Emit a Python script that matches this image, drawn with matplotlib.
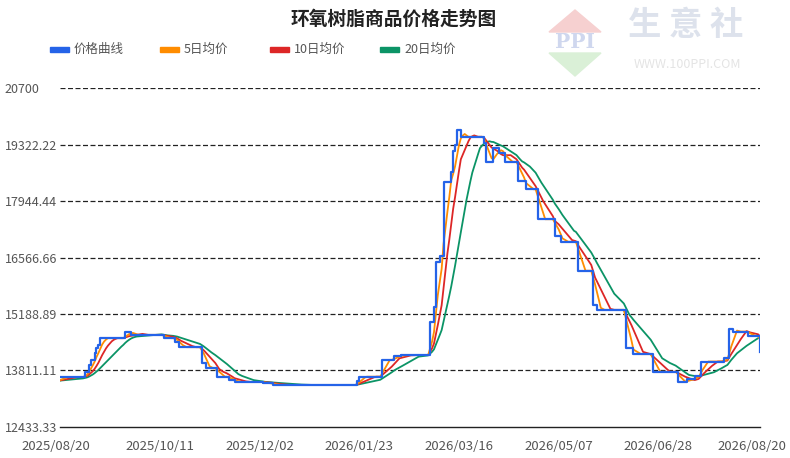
import matplotlib
matplotlib.use("Agg")
import matplotlib.pyplot as plt
import matplotlib.dates as mdates
from matplotlib.patches import Polygon, Rectangle
from matplotlib.transforms import ScaledTranslation
import pandas as pd

plt.rcParams['font.family'] = ['Noto Sans CJK SC', 'DejaVu Sans']

# price change points (value holds until the next date)
change_dates = [
    "2025-08-01", "2025-08-20", "2025-09-02", "2025-09-04", "2025-09-05", "2025-09-07",
    "2025-09-08", "2025-09-09", "2025-09-10", "2025-09-23", "2025-09-26", "2025-10-13",
    "2025-10-19", "2025-10-21", "2025-11-02", "2025-11-04", "2025-11-10", "2025-11-16",
    "2025-11-19", "2025-12-04", "2025-12-09", "2026-01-22", "2026-01-23", "2026-02-04",
    "2026-02-10", "2026-02-14", "2026-03-01", "2026-03-03", "2026-03-04", "2026-03-06",
    "2026-03-08", "2026-03-12", "2026-03-13", "2026-03-14", "2026-03-15", "2026-03-17",
    "2026-03-29", "2026-03-30", "2026-04-03", "2026-04-06", "2026-04-09", "2026-04-16",
    "2026-04-20", "2026-04-26", "2026-05-05", "2026-05-08", "2026-05-17", "2026-05-25",
    "2026-05-27", "2026-06-11", "2026-06-15", "2026-06-25", "2026-07-08", "2026-07-13",
    "2026-07-17", "2026-07-20", "2026-08-01", "2026-08-04", "2026-08-06", "2026-08-14",
    "2026-08-20",
]
change_values = [
    13560, 13650, 13780, 13945, 14070, 14240,
    14360, 14430, 14600, 14760, 14680, 14600,
    14510, 14380, 13990, 13865, 13660, 13580,
    13530, 13500, 13460, 13560, 13660, 14070,
    14165, 14190, 15000, 15350, 16450, 16600,
    18400, 18660, 19170, 19310, 19680, 19510,
    19350, 18900, 19230, 19110, 18900, 18420,
    18230, 17500, 17090, 16950, 16245, 15410,
    15290, 14350, 14210, 13780, 13540, 13600,
    13680, 14030, 14110, 14820, 14760, 14650,
    14255,
]

start, end = "2025-08-20", "2026-08-20"
y_ticks = [12433.33, 13811.11, 15188.89, 16566.66, 17944.44, 19322.22, 20700]
y_labels = ["12433.33", "13811.11", "15188.89", "16566.66", "17944.44", "19322.22", "20700"]
x_ticks = ["2025-08-20", "2025-10-11", "2025-12-02", "2026-01-23",
           "2026-03-16", "2026-05-07", "2026-06-28", "2026-08-20"]

series_names = ["价格曲线", "5日均价", "10日均价", "20日均价"]
colors = ["#2563e8", "#ff8c00", "#dd2626", "#0b9466"]

price = pd.Series(change_values, index=pd.to_datetime(change_dates))
daily = price.reindex(pd.date_range(change_dates[0], end, freq="D")).ffill()
ma5 = daily.rolling(5).mean()
ma10 = daily.rolling(10).mean()
ma20 = daily.rolling(20).mean()

fig = plt.figure(figsize=(7.9, 4.58), dpi=100)
ax = fig.add_axes([60 / 790, 31 / 458, 700 / 790, 339 / 458])

for s, c, lw in [(ma20, colors[3], 1.3), (ma10, colors[2], 1.3),
                 (ma5, colors[1], 1.3), (daily, colors[0], 1.6)]:
    v = s[start:end]
    ax.plot(v.index, v.values, color=c, lw=lw,
            drawstyle="steps-post" if s is daily else "default")

ax.set_xlim(pd.Timestamp(start), pd.Timestamp(end))
ax.set_ylim(y_ticks[0], y_ticks[-1])
ax.set_yticks(y_ticks)
ax.set_yticklabels(y_labels)
for t in y_ticks[1:]:
    ax.axhline(t, color="#222222", lw=0.9, ls=(0, (4, 2)), zorder=0)
ax.tick_params(axis="y", length=0, pad=40, labelsize=9, labelcolor="#555555")
for lab in ax.get_yticklabels():
    lab.set_horizontalalignment("left")

tick_dates = pd.to_datetime(x_ticks)
ax.set_xticks(tick_dates)
ax.xaxis.set_major_formatter(mdates.DateFormatter("%Y/%m/%d"))
ax.tick_params(axis="x", which="major", length=0, labelsize=9.5,
               labelcolor="#555555", pad=9)
# tick marks only at the inner dates
ax.set_xticks(tick_dates[1:-1], minor=True)
ax.tick_params(axis="x", which="minor", length=5, width=1, color="#222222")
xlabs = ax.get_xticklabels()
xlabs[0].set_transform(xlabs[0].get_transform() + ScaledTranslation(-0.045, 0, fig.dpi_scale_trans))
xlabs[-1].set_transform(xlabs[-1].get_transform() + ScaledTranslation(-0.08, 0, fig.dpi_scale_trans))

for sp in ["left", "right", "top"]:
    ax.spines[sp].set_visible(False)
ax.spines["bottom"].set_color("#222222")
ax.spines["bottom"].set_linewidth(1)

# title
fig.text(394 / 790, 1 - 19 / 458, "环氧树脂商品价格走势图", ha="center", va="center",
         fontsize=13.5, fontweight="bold", color="#222222")

# legend
leg_x = [50, 160, 270, 380]
for x0, name, c in zip(leg_x, series_names, colors):
    fig.patches.append(Rectangle((x0 / 790, 1 - 51.5 / 458), 19 / 790, 4.5 / 458,
                                 transform=fig.transFigure, color=c))
    fig.text((x0 + 24) / 790, 1 - 49.5 / 458, name, ha="left", va="center",
             fontsize=9, color="#555555")

# watermark logo
def fpt(x, y):
    return (x / 790, 1 - y / 458)

fig.patches.append(Polygon([fpt(575, 10), fpt(601, 32), fpt(549, 32)], closed=True,
                           transform=fig.transFigure, color="#f6d0d0", zorder=0))
fig.patches.append(Polygon([fpt(549, 53), fpt(601, 53), fpt(575, 76)], closed=True,
                           transform=fig.transFigure, color="#daf0d7", zorder=0))
fig.text(575 / 790, 1 - 42.5 / 458, "PPI", ha="center", va="center", fontsize=14.5,
         fontweight="bold", color="#cfd7ee", family="DejaVu Serif")
fig.text(686 / 790, 1 - 26 / 458, "生 意 社", ha="center", va="center", fontsize=24,
         fontweight="bold", color="#dde2ec")
fig.text(687 / 790, 1 - 64 / 458, "WWW.100PPI.COM", ha="center", va="center",
         fontsize=9, color="#e4e4e4")

fig.savefig("out.png", dpi=100)
